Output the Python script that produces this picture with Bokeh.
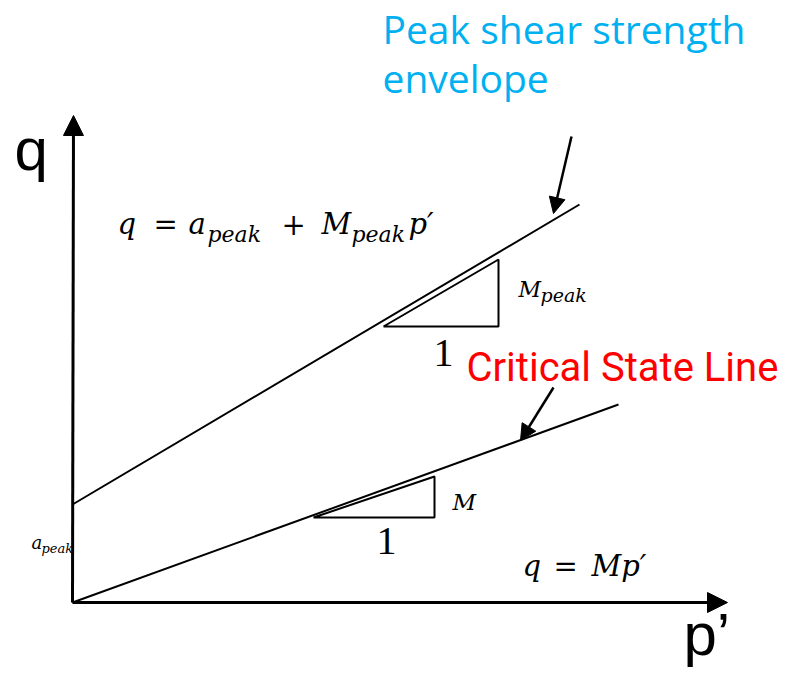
from bokeh.plotting import figure
from bokeh.models import Range1d, Arrow, NormalHead
from bokeh.core.properties import value
from bokeh.embed import file_html
from bokeh.resources import INLINE

# ---- diagram data (p' , q in drawing units, origin at axes corner) ----
axis_p = [0, 655]          # p' axis extent
axis_q = [0, 487]          # q axis extent
peak_p = [0, 507]          # peak envelope p'
peak_q = [98, 398]         # peak envelope q (intercept a_peak = 98)
csl_p = [0, 546]           # critical state line p'
csl_q = [0, 198]           # critical state line q
tri_peak_p = [311, 426, 426, 311]
tri_peak_q = [276, 276, 343, 276]
tri_csl_p = [241, 362, 362, 241]
tri_csl_q = [85, 85, 126, 85]
ptr_peak = [499, 466, 481, 389]   # x0, y0, x1, y1 of pointer arrow
ptr_csl = [481, 215, 448, 162]

W, H = 787, 675
p = figure(width=W, height=H, x_range=Range1d(-72, 715), y_range=Range1d(-73, 602),
           output_backend="svg", toolbar_location=None, min_border=0,
           x_axis_type=None, y_axis_type=None)
p.grid.visible = False
p.outline_line_color = None
p.background_fill_color = "white"
p.border_fill_color = "white"

# axes
p.add_layout(Arrow(end=NormalHead(size=20, fill_color="black", line_color="black", line_width=1),
                   x_start=axis_p[0], y_start=axis_q[0], x_end=axis_p[1], y_end=0,
                   line_width=3, line_color="black"))
p.add_layout(Arrow(end=NormalHead(size=20, fill_color="black", line_color="black", line_width=1),
                   x_start=0, y_start=0, x_end=1, y_end=axis_q[1],
                   line_width=3, line_color="black"))

# lines
p.line(peak_p, peak_q, line_width=2, line_color="black")
p.line(csl_p, csl_q, line_width=2, line_color="black")
p.line(tri_peak_p, tri_peak_q, line_width=2, line_color="black")
p.line(tri_csl_p, tri_csl_q, line_width=2, line_color="black")

# pointer arrows
for a in (ptr_peak, ptr_csl):
    p.add_layout(Arrow(end=NormalHead(size=16, fill_color="black", line_color="black", line_width=1),
                       x_start=a[0], y_start=a[1], x_end=a[2], y_end=a[3],
                       line_width=2.5, line_color="black"))

SANS = "Liberation Sans"
MATH = "DejaVu Serif"
K = 0.38  # empirical baseline correction (fraction of font size)

def txt(x, y, s, size, font=MATH, style="italic", color="black"):
    p.text(x=[x], y=[y + K * size], text=[s], text_font=value(font),
           text_font_size=f"{size}px", text_font_style=style, text_color=color,
           text_align="left", text_baseline="alphabetic")

# axis labels
txt(-58, 430, "q", 60, SANS, "normal")
txt(611, -55, "p\u2019", 60, SANS, "normal")

# coloured annotations
txt(310, 559, "Peak shear strength", 39, "Open Sans", "normal", "#00B0F0")
txt(310, 510, "envelope", 39, "Open Sans", "normal", "#00B0F0")
txt(394, 220, "Critical State Line", 40, "Roboto", "normal", "#FF0000")

# equation: q = a_peak + M_peak p'
txt(45, 367, "q", 29)
txt(81, 367, "=", 29, MATH, "normal")
txt(116, 367, "a", 29)
txt(135, 360, "peak", 22)
txt(209, 367, "+", 29, MATH, "normal")
txt(249, 367, "M", 29)
txt(279, 360, "peak", 22)
txt(336, 367, "p\u2032", 29)

# slope labels
txt(446, 305, "M", 22)
txt(468, 300, "peak", 19)
txt(361, 234, "1", 40, "Liberation Serif", "normal")
txt(380, 92, "M", 23)
txt(304, 46, "1", 40, "Liberation Serif", "normal")

# q = M p'
txt(450, 25, "q", 29)
txt(481, 25, "=", 29, MATH, "normal")
txt(519, 25, "Mp\u2032", 29)

# a_peak on axis
txt(-41, 53, "a", 18)
txt(-31, 49, "peak", 13)

open("out.html", "w").write(file_html(p, INLINE))
